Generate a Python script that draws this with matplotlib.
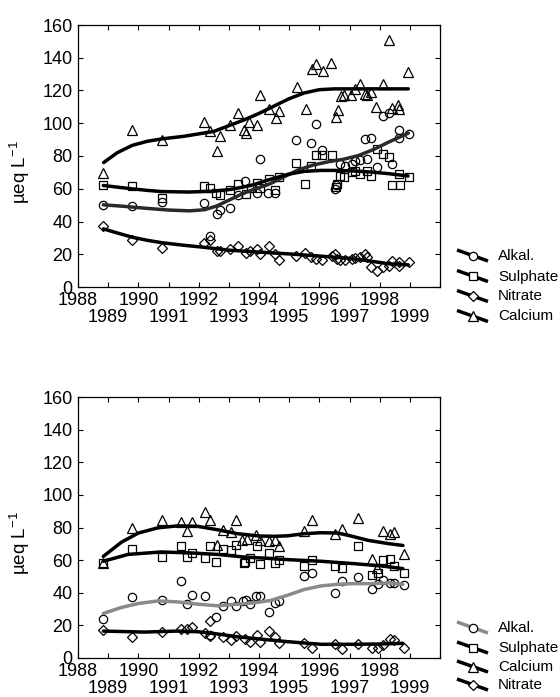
import matplotlib
matplotlib.use("Agg")
import matplotlib.pyplot as plt
from matplotlib.lines import Line2D

plt.rcParams["font.family"] = ["Liberation Sans", "DejaVu Sans"]
plt.rcParams["mathtext.fontset"] = "custom"
plt.rcParams["mathtext.rm"] = "Liberation Sans"
plt.rcParams["mathtext.it"] = "Liberation Sans:italic"

# ---- upper site: measured concentrations (ueq/L) ----
t_alk_x = [1988.84, 1989.8, 1990.79, 1992.19, 1992.38, 1992.6, 1992.7, 1993.04, 1993.32, 1993.53,
           1993.94, 1994.02, 1994.31, 1994.52, 1995.23, 1995.73, 1995.9, 1996.1, 1996.53, 1996.56,
           1996.7, 1996.84, 1997.07, 1997.18, 1997.36, 1997.5, 1997.58, 1997.71, 1997.91, 1998.1,
           1998.3, 1998.42, 1998.65, 1998.65, 1998.97]
t_alk_y = [50.2, 49.4, 51.8, 51.2, 31.4, 44.7, 47, 48, 56, 65,
           57.3, 78, 57.3, 57.3, 89.6, 88, 99.4, 83.5, 60, 62,
           75.3, 74, 75.3, 76.7, 77.8, 90.6, 78.4, 91.2, 73.3, 104.3,
           106.3, 75.3, 95.7, 91.2, 93.3]

t_sul_x = [1988.84, 1989.8, 1990.79, 1992.19, 1992.38, 1992.57, 1992.7, 1993.04, 1993.32, 1993.56,
           1993.75, 1993.95, 1994.03, 1994.33, 1994.54, 1994.65, 1995.23, 1995.54, 1995.73, 1995.9,
           1996.1, 1996.42, 1996.54, 1996.6, 1996.7, 1996.82, 1997.07, 1997.18, 1997.36, 1997.58,
           1997.71, 1997.91, 1998.1, 1998.3, 1998.42, 1998.65, 1998.66, 1998.97]
t_sul_y = [62.2, 61.4, 54.3, 61.4, 60.6, 57.3, 56.3, 59, 63, 56.5,
           60.6, 63.5, 60.4, 66, 59.4, 67, 76, 62.7, 74, 80.8,
           80.8, 80.4, 61, 63, 68, 67, 70, 71, 69, 71,
           67.5, 84.5, 81.4, 79.4, 62.4, 69, 62, 67]

t_nit_x = [1988.84, 1989.8, 1990.79, 1992.19, 1992.38, 1992.6, 1992.7, 1993.04, 1993.32, 1993.56,
           1993.7, 1993.95, 1994.03, 1994.33, 1994.54, 1994.65, 1995.23, 1995.54, 1995.73, 1995.9,
           1996.1, 1996.42, 1996.53, 1996.6, 1996.7, 1996.84, 1997.07, 1997.18, 1997.36, 1997.5,
           1997.58, 1997.71, 1997.91, 1998.1, 1998.3, 1998.42, 1998.65, 1998.65, 1998.97]
t_nit_y = [37.1, 29, 23.9, 26.7, 28.4, 22.2, 22.2, 23, 24.9, 21,
           21.8, 23, 20.2, 25.3, 20.2, 16.5, 19, 20.8, 18.2, 17.1,
           16.7, 19.2, 20.2, 17.1, 16.7, 16.7, 17.1, 17.8, 18.2, 20.2,
           18.2, 12, 10, 12, 12.7, 16.1, 13, 15, 15.1]

t_cal_x = [1988.84, 1989.8, 1990.79, 1992.19, 1992.38, 1992.6, 1992.7, 1993.04, 1993.32, 1993.5,
           1993.57, 1993.68, 1993.95, 1994.02, 1994.33, 1994.55, 1994.67, 1995.25, 1995.56, 1995.75,
           1995.9, 1996.12, 1996.4, 1996.55, 1996.62, 1996.72, 1996.82, 1997.06, 1997.18, 1997.36,
           1997.5, 1997.58, 1997.71, 1997.89, 1998.1, 1998.3, 1998.42, 1998.62, 1998.64, 1998.94]
t_cal_y = [69.8, 96, 90, 101, 95, 83, 92, 99, 106, 96,
           94, 101, 99, 117, 109, 103, 107.5, 122, 109, 133,
           136, 132, 137, 104, 108, 116.6, 117, 117, 121, 124,
           118, 117.5, 119, 110, 124, 150.6, 109.5, 111, 109, 131.5]

# smoothed trends, upper site
t_alk_fit_x = [1988.84, 1989.5, 1990.3, 1991.0, 1991.7, 1992.2, 1992.6, 1993.0, 1993.4, 1993.8,
               1994.3, 1994.8, 1995.3, 1995.8, 1996.3, 1996.8, 1997.3, 1997.8, 1998.3, 1998.95]
t_alk_fit_y = [50.2, 49.3, 48, 47, 46.5, 47.2, 49.5, 53, 56.5, 59.5,
               62.5, 67, 71.5, 74.5, 76.5, 78, 80.3, 84, 88.5, 94]
t_sul_fit_x = [1988.84, 1989.3, 1989.77, 1990.3, 1990.76, 1991.64, 1992.4, 1993.07, 1993.73, 1994.33,
               1994.95, 1995.5, 1996.06, 1996.62, 1997.18, 1997.73, 1998.3, 1998.94]
t_sul_fit_y = [62, 61, 60, 59, 58.3, 58, 58.4, 59.6, 62, 65.5,
               68.8, 70.6, 71.2, 71.2, 70.8, 70.2, 69.2, 67.8]
t_nit_fit_x = [1988.84, 1989.3, 1989.8, 1990.3, 1990.8, 1991.5, 1992.2, 1993.0, 1994.0, 1995.0,
               1996.0, 1997.0, 1997.7, 1998.3, 1998.95]
t_nit_fit_y = [35.5, 33, 30.4, 28.5, 27, 25.5, 24.2, 22.5, 21.3, 20.2,
               18.9, 17.5, 15.8, 14.2, 13.5]
t_cal_fit_x = [1988.85, 1989.3, 1989.8, 1990.3, 1990.8, 1991.5, 1992.0, 1992.5, 1993.0, 1993.5,
               1994.0, 1994.5, 1995.0, 1995.5, 1996.0, 1996.5, 1997.5, 1998.95]
t_cal_fit_y = [76, 82, 86.5, 89, 90.5, 92, 93.5, 95, 98.5, 102,
               106, 110.5, 115, 118.5, 120.5, 121, 121, 121]

# ---- lower site: measured concentrations (ueq/L) ----
b_alk_x = [1988.84, 1989.8, 1990.79, 1991.4, 1991.6, 1991.78, 1992.2, 1992.37, 1992.58, 1992.81,
           1993.07, 1993.24, 1993.47, 1993.56, 1993.7, 1993.89, 1994.03, 1994.33, 1994.52, 1994.65,
           1995.5, 1995.75, 1996.53, 1996.75, 1997.29, 1997.76, 1997.94, 1998.12, 1998.35, 1998.47,
           1998.82]
b_alk_y = [24.2, 37.1, 35.4, 47, 32.8, 38.9, 37.9, 14, 25.3, 31.8,
           35, 31.8, 35, 35.4, 33, 38.1, 38.1, 27.9, 33.8, 35,
           50.1, 52.1, 39.9, 47.3, 49.7, 42, 45.6, 48.1, 46, 46,
           44.6]

b_sul_x = [1988.84, 1989.8, 1990.79, 1991.4, 1991.6, 1991.78, 1992.2, 1992.37, 1992.58, 1992.81,
           1993.07, 1993.24, 1993.5, 1993.54, 1993.7, 1993.92, 1994.03, 1994.33, 1994.52, 1994.65,
           1995.5, 1995.75, 1996.53, 1996.75, 1997.29, 1997.76, 1997.94, 1998.12, 1998.35, 1998.47,
           1998.82]
b_sul_y = [58.2, 66.6, 62.1, 68.6, 62.1, 64.4, 61.1, 68.8, 58.9, 66.6,
           66.4, 69.2, 58.2, 58.9, 61.5, 68.4, 57.4, 64.6, 58.2, 59.9,
           56.4, 59.9, 56.2, 55.2, 68.6, 51.1, 52.1, 59.9, 60.7, 56.2,
           52.1]

b_cal_x = [1988.84, 1989.8, 1990.79, 1991.4, 1991.6, 1991.78, 1992.2, 1992.37, 1992.6, 1992.81,
           1993.07, 1993.24, 1993.45, 1993.6, 1993.89, 1994.03, 1994.33, 1994.52, 1994.65, 1995.5,
           1995.75, 1996.53, 1996.75, 1997.29, 1997.76, 1997.9, 1998.12, 1998.35, 1998.47, 1998.82]
b_cal_y = [58.3, 79.6, 84.3, 83.3, 77.6, 83.1, 89.2, 84.7, 69, 78.2,
           77.2, 84.7, 72.5, 73, 75.2, 72.1, 71.5, 72.1, 68.4, 77.8,
           84.7, 75.8, 79.2, 85.7, 60.5, 55.4, 77.8, 76.2, 77.2, 63.5]

b_nit_x = [1988.84, 1989.8, 1990.79, 1991.4, 1991.6, 1991.78, 1992.2, 1992.37, 1992.37, 1992.81,
           1993.07, 1993.24, 1993.54, 1993.7, 1993.95, 1994.03, 1994.33, 1994.52, 1994.65, 1995.5,
           1995.75, 1996.53, 1996.75, 1997.29, 1997.76, 1997.94, 1998.12, 1998.35, 1998.47, 1998.82]
b_nit_y = [17.1, 13, 16.1, 17.5, 17.5, 18.9, 15.1, 13.6, 22.6, 13,
           10.8, 13.6, 11.6, 9.8, 14.1, 9.6, 16.7, 13, 9, 9,
           6.3, 8.4, 5.3, 8.4, 5.9, 5.9, 7.9, 11.6, 11, 6.3]

# smoothed trends, lower site
b_alk_fit_x = [1988.84, 1989.44, 1990.0, 1990.65, 1991.3, 1991.97, 1992.63, 1993.29, 1993.83, 1994.39,
               1994.95, 1995.5, 1996.06, 1996.62, 1997.18, 1997.73, 1998.3, 1998.77]
b_alk_fit_y = [27.3, 31, 33.4, 35, 34.4, 33, 32, 33, 33.8, 35.3,
               38.5, 42, 44.2, 45.2, 45.6, 45.6, 46, 45.2]
b_sul_fit_x = [1988.84, 1989.66, 1990.76, 1991.75, 1992.63, 1993.5, 1994.1, 1994.95, 1996.06, 1997.18,
               1998.07, 1998.77]
b_sul_fit_y = [59.3, 63.5, 65, 64.4, 63.5, 61.9, 61.3, 60.3, 59.3, 57.8,
               56.4, 54.8]
b_cal_fit_x = [1988.84, 1989.44, 1990.0, 1990.65, 1991.3, 1991.97, 1992.63, 1993.29, 1994.0, 1994.5,
               1994.95, 1995.5, 1996.06, 1996.62, 1997.07, 1997.62, 1998.3, 1998.77]
b_cal_fit_y = [62.3, 71, 76.6, 79.8, 81, 80.7, 78.6, 76.2, 74.8, 74.6,
               74.9, 76.2, 76.8, 76.6, 74.7, 72.1, 70.1, 69]
b_nit_fit_x = [1988.84, 1990.2, 1991.3, 1991.97, 1992.63, 1993.29, 1994.05, 1994.95, 1996.06, 1997.18,
               1998.07, 1998.77]
b_nit_fit_y = [16.5, 15.9, 16.5, 16.1, 14.7, 13, 11.6, 10, 8.4, 8.4,
               8.6, 9]

even_years = list(range(1988, 2001, 2))
odd_years = list(range(1989, 2000, 2))

FW = 560
FH = 697
fig = plt.figure(figsize=(FW / 100, FH / 100), dpi=100)

ax_top = fig.add_axes([78 / FW, 1 - 287 / FH, 362 / FW, 262 / FH])
ax_bot = fig.add_axes([78 / FW, 1 - 658 / FH, 362 / FW, 261 / FH])

mk = dict(linestyle="none", markerfacecolor="none", markeredgecolor="black", markeredgewidth=0.9)
LW = 2.5


def style_axes(ax):
    ax.set_xlim(1988, 2000)
    ax.set_ylim(0, 160)
    ax.set_yticks(range(0, 161, 20))
    ax.set_xticks(even_years, labels=[str(y) if y < 2000 else "" for y in even_years])
    ax.set_xticks(odd_years, labels=[str(y) for y in odd_years], minor=True)
    ax.tick_params(axis="both", which="both", direction="in", top=True, right=True,
                   length=3.5, width=0.8, labelsize=13)
    ax.tick_params(axis="x", which="major", pad=3.5)
    ax.tick_params(axis="x", which="minor", pad=16)
    ax.tick_params(axis="y", pad=4)
    for s in ax.spines.values():
        s.set_linewidth(0.9)
    ax.text(-0.16, 0.44, r"µeq L$^{-1}$", transform=ax.transAxes, rotation=90,
            ha="center", va="center", fontsize=13.5)


def legend_entry(y_px, marker, color, label, ms):
    x0, x1 = 457 / FW, 488 / FW
    ya, yb = 1 - (y_px - 6) / FH, 1 - (y_px + 5) / FH
    fig.add_artist(Line2D([x0, x1], [ya, yb], color=color, lw=LW, solid_capstyle="butt"))
    fig.add_artist(Line2D([(x0 + x1) / 2], [(ya + yb) / 2], marker=marker, markersize=ms,
                          markerfacecolor="white", markeredgecolor="black", markeredgewidth=0.9))
    fig.text(498 / FW, 1 - y_px / FH, label, ha="left", va="center", fontsize=11)


# upper panel
ax = ax_top
ax.plot(t_alk_x, t_alk_y, marker="o", markersize=6, **mk)
ax.plot(t_sul_x, t_sul_y, marker="s", markersize=6, **mk)
ax.plot(t_nit_x, t_nit_y, marker="D", markersize=4.6, **mk)
ax.plot(t_cal_x, t_cal_y, marker="^", markersize=6.5, **mk)
ax.plot(t_alk_fit_x, t_alk_fit_y, color="#2a2a2a", lw=LW, solid_capstyle="round")
ax.plot(t_sul_fit_x, t_sul_fit_y, color="black", lw=LW, solid_capstyle="round")
ax.plot(t_nit_fit_x, t_nit_fit_y, color="black", lw=LW, solid_capstyle="round")
ax.plot(t_cal_fit_x, t_cal_fit_y, color="black", lw=LW, solid_capstyle="round")
style_axes(ax)

legend_entry(256, "o", "black", "Alkal.", 6)
legend_entry(276.5, "s", "black", "Sulphate", 6)
legend_entry(296.5, "D", "black", "Nitrate", 4.6)
legend_entry(316.5, "^", "black", "Calcium", 6.5)

# lower panel
ax = ax_bot
ax.plot(b_alk_x, b_alk_y, marker="o", markersize=6, **mk)
ax.plot(b_sul_x, b_sul_y, marker="s", markersize=6, **mk)
ax.plot(b_cal_x, b_cal_y, marker="^", markersize=6.5, **mk)
ax.plot(b_nit_x, b_nit_y, marker="D", markersize=4.6, **mk)
ax.plot(b_alk_fit_x, b_alk_fit_y, color="#8a8a8a", lw=LW, solid_capstyle="round")
ax.plot(b_sul_fit_x, b_sul_fit_y, color="black", lw=LW, solid_capstyle="round")
ax.plot(b_cal_fit_x, b_cal_fit_y, color="black", lw=LW, solid_capstyle="round")
ax.plot(b_nit_fit_x, b_nit_fit_y, color="black", lw=LW, solid_capstyle="round")
style_axes(ax)

legend_entry(628, "o", "#8a8a8a", "Alkal.", 6)
legend_entry(648, "s", "black", "Sulphate", 6)
legend_entry(667, "^", "black", "Calcium", 6.5)
legend_entry(685, "D", "black", "Nitrate", 4.6)

fig.savefig("out.png", dpi=100)
